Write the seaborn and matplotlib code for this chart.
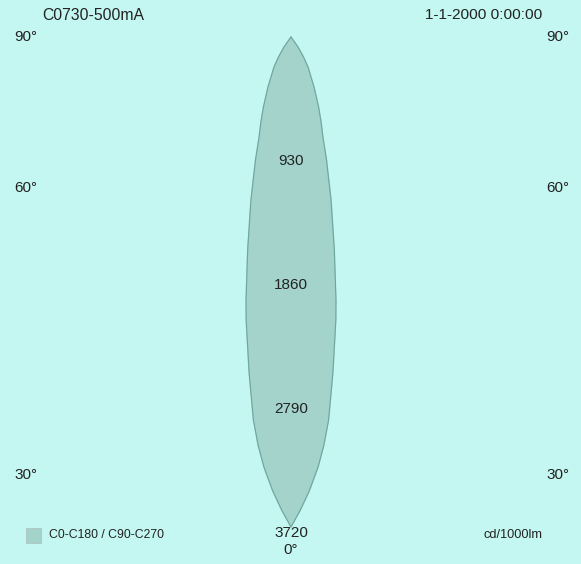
import numpy as np
import pandas as pd
import matplotlib
matplotlib.use("Agg")
import matplotlib.pyplot as plt
import seaborn as sns

# gamma angles (deg) and luminous intensity (cd/1000lm)
gamma_deg = [0, 1.1, 2.3, 3.6, 4.6, 5.6, 7.1, 9.0, 9.7, 11.5, 13.8, 16.1, 17.7,
             19.6, 21.5, 24.7, 29.5, 32, 35, 39, 90]
intensity = [3675, 3552, 3408, 3232, 3072, 2887, 2540, 2149, 2001, 1630, 1259, 960, 787,
             670, 564, 413, 259, 177, 92, 0, 0]

ring_values = [930, 1860, 2790, 3720]
title_left = "C0730-500mA"
title_right = "1-1-2000 0:00:00"
legend_label = "C0-C180 / C90-C270"
unit_label = "cd/1000lm"

bg = "#c4f7f1"
fill_col = "#a3d3cb"
edge_col = "#6da69e"
txt_col = "#222222"

sns.set_theme(style="white")
plt.rcParams["font.family"] = ["Liberation Sans", "DejaVu Sans"]

W, H = 581, 564
fig = plt.figure(figsize=(W / 100, H / 100), dpi=100, facecolor=bg)

# polar axes with origin at (291, 37) px, 3720 reaching 496 px below it
ox, oy = 291 / W, 1 - 37 / H
R_px = 560
rmax = 3720 * R_px / 496
aw, ah = 2 * R_px / W, 2 * R_px / H
ax = fig.add_axes([ox - aw / 2, oy - ah / 2, aw, ah], projection="polar")
ax.set_facecolor("none")
ax.set_theta_zero_location("S")
ax.set_ylim(0, rmax)
ax.grid(False)
ax.set_xticks([])
ax.set_yticks([])
ax.spines["polar"].set_visible(False)

g = np.array(gamma_deg, dtype=float)
I = np.array(intensity, dtype=float)
df = pd.DataFrame({
    "theta": np.deg2rad(np.concatenate([-g[::-1], g[1:]])),
    "r": np.concatenate([I[::-1], I[1:]]),
})

ax.fill(df["theta"], df["r"], color=fill_col, alpha=1, zorder=2)
sns.lineplot(data=df, x="theta", y="r", sort=False, estimator=None, ax=ax,
             color=edge_col, linewidth=0.8, zorder=3)
ax.set_xlabel("")
ax.set_ylabel("")

for v in ring_values:
    ax.text(0, v, str(v), ha="center", va="center", fontsize=11, color=txt_col, zorder=5)

def ptext(x, y, s, **kw):
    fig.text(x / W, 1 - y / H, s, color=txt_col, **kw)

ptext(42, 15, title_left, ha="left", va="center", fontsize=11.3)
ptext(542, 15, title_right, ha="right", va="center", fontsize=11.1)
ptext(14, 37, "90°", ha="left", va="center", fontsize=11)
ptext(569, 37, "90°", ha="right", va="center", fontsize=11)
ptext(14, 188, "60°", ha="left", va="center", fontsize=11)
ptext(569, 188, "60°", ha="right", va="center", fontsize=11)
ptext(14, 475, "30°", ha="left", va="center", fontsize=11)
ptext(569, 475, "30°", ha="right", va="center", fontsize=11)
ptext(291, 550, "0°", ha="center", va="center", fontsize=11)

# legend swatch
fig.patches.append(plt.Rectangle((26 / W, 1 - 543 / H), 15 / W, 15 / H, transform=fig.transFigure,
                                 facecolor=fill_col, edgecolor="#b0c4c0", linewidth=0.6))
ptext(49, 535, legend_label, ha="left", va="center", fontsize=8.8)
ptext(542, 535, unit_label, ha="right", va="center", fontsize=9.2)

fig.savefig("out.png", dpi=100, facecolor=bg)
